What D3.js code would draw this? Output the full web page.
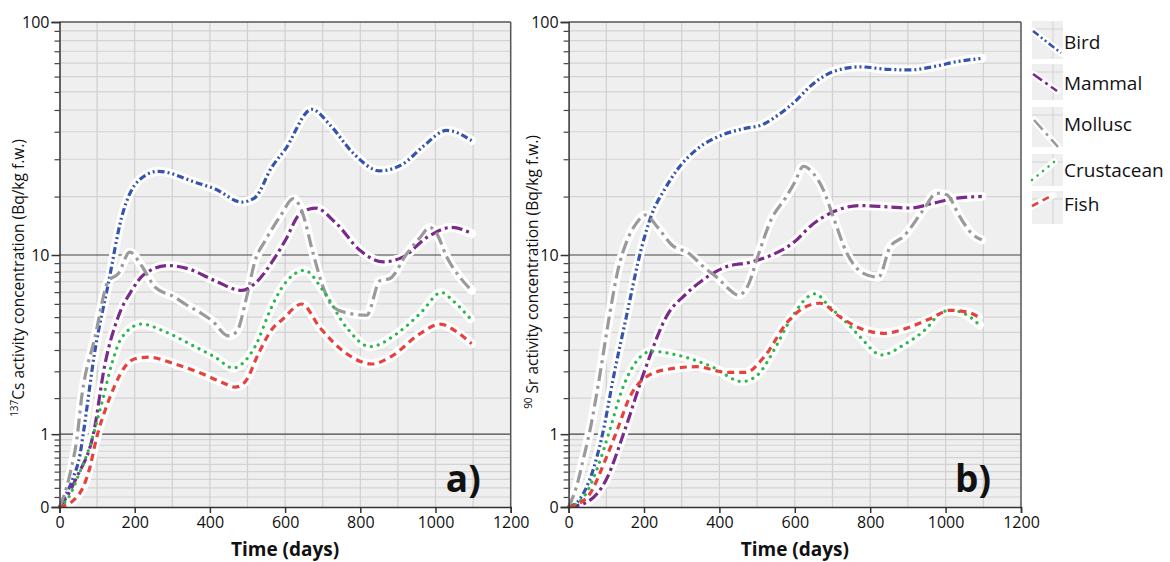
<!DOCTYPE html>
<html><head><meta charset="utf-8">
<script src="https://cdn.jsdelivr.net/npm/d3@7"></script>
<style>
body{margin:0;background:#fff;}
svg{display:block;font-family:"Open Sans",sans-serif;}
</style></head>
<body><svg id="chart" width="1170" height="562"></svg>
<script>
// ---------- data (days, Bq/kg f.w.) ----------
const seriesNames = ["Bird","Mammal","Mollusc","Crustacean","Fish"];
const xTicks = [0,200,400,600,800,1000,1200];
const yMajorTicks = [0,1,10,100];

// Panel a) 137Cs
const csBird = [[0,0],[14,0.1],[37,0.33],[55,0.66],[63,1.0],[94,3.4],[130,7.4],[165,14.7],[210,21.3],[263,23.4],[360,21],[414,19.6],[485,17.2],[520,18],[564,24.3],[600,29],[671,43],[719,37],[781,28],[852,23.5],[914,25.2],[968,30],[1030,35],[1096,31.7]];
const csMammal = [[0,0],[19,0.1],[46,0.33],[90,1.0],[121,2.9],[156,5.1],[192,6.85],[227,8.2],[289,8.95],[342,8.65],[414,7.6],[485,6.85],[520,7.4],[574,9.8],[600,11.6],[640,15.3],[680,16.2],[737,13.8],[799,10.5],[861,9.3],[914,9.8],[977,12],[1043,13.3],[1096,12.5]];
const csMollusc = [[0,0],[19,0.21],[32,0.46],[46,0.9],[59,1.84],[94,4.0],[130,7.6],[156,8.2],[187,10.3],[218,8.95],[254,7.1],[307,6.36],[334,5.9],[378,5.3],[405,4.9],[449,4.1],[471,4.3],[498,6.4],[520,9.4],[547,11.6],[588,15],[622,17.8],[644,15.8],[675,10.1],[701,7.1],[728,5.7],[773,5.3],[817,5.2],[852,7.6],[879,7.8],[923,10.1],[959,12],[985,13.3],[1003,12.5],[1030,9.8],[1065,7.9],[1096,6.85]];
const csCrustacean = [[0,0],[25,0.1],[52,0.37],[79,0.75],[112,1.67],[139,2.9],[165,4.0],[218,4.7],[281,4.3],[360,3.6],[414,3.16],[462,2.75],[485,2.9],[520,3.6],[564,5.7],[590,7.0],[652,8.5],[701,6.85],[764,4.5],[826,3.6],[897,4.2],[959,5.3],[1016,6.7],[1047,6.1],[1093,5.0]];
const csFish = [[0,0],[37,0.065],[63,0.21],[81,0.46],[94,0.8],[103,1.05],[121,1.5],[148,2.2],[174,2.8],[201,3.1],[236,3.16],[307,2.9],[378,2.56],[431,2.28],[467,2.13],[493,2.28],[529,3.3],[564,4.4],[595,5.0],[644,5.9],[693,4.5],[764,3.3],[830,2.9],[879,3.16],[959,4.2],[1012,4.7],[1056,4.3],[1096,3.73]];

// Panel b) 90Sr
const srBird = [[0,0],[30,0.08],[60,0.35],[90,1.0],[120,2.5],[154,5.2],[193,10.7],[220,15.1],[256,19.7],[291,24.1],[344,29.4],[406,33.4],[468,35.7],[512,36.9],[556,40.7],[600,46.3],[640,53.6],[702,62],[773,64.9],[844,63.4],[906,63],[967,65],[1029,68.2],[1096,70.5]];
const srMammal = [[0,0],[50,0.05],[100,0.3],[150,1.1],[200,2.6],[264,5.3],[308,6.5],[362,7.8],[415,8.8],[486,9.3],[539,10],[600,11.5],[640,13.4],[702,15.6],[773,16.6],[844,16.4],[906,16.2],[967,17],[1029,17.9],[1096,18.2]];
const srMollusc = [[0,0],[20,0.2],[40,0.6],[60,1.2],[80,2.3],[110,5.4],[132,8.7],[154,11.5],[180,13.9],[203,15.1],[238,13.2],[274,11.1],[318,10.2],[362,8.7],[397,7.8],[433,6.76],[450,6.5],[477,7.3],[503,10],[539,14.6],[575,17.9],[600,21],[623,24.6],[649,22.9],[676,19.4],[702,14.8],[738,10.2],[782,8.24],[822,7.9],[853,10.9],[888,12.1],[941,15.9],[976,18.8],[1003,18.5],[1038,14.8],[1069,12.5],[1096,11.7]];
const srCrustacean = [[0,0],[40,0.1],[80,0.5],[110,1.1],[140,2.0],[180,3.0],[220,3.4],[300,3.2],[380,2.8],[460,2.3],[500,2.5],[550,3.6],[587,4.9],[654,6.6],[693,5.7],[746,4.6],[773,4.05],[830,3.25],[888,3.67],[950,4.48],[985,5.3],[1012,5.5],[1050,5.3],[1090,4.65]];
const srFish = [[0,0],[50,0.1],[100,0.6],[130,1.1],[160,1.8],[200,2.4],[260,2.7],[340,2.8],[420,2.6],[470,2.6],[520,3.2],[580,4.8],[620,5.6],[667,5.95],[720,5.1],[773,4.48],[835,4.22],[897,4.48],[959,5.0],[1012,5.5],[1056,5.4],[1087,5.1]];

// ---------- styles ----------
const styles = {
  Bird:       {color:"#3553b0", dash:"7,3,2,3,2,3", cap:"butt"},
  Mammal:     {color:"#7b2a8c", dash:"11,4,3,4", cap:"butt"},
  Mollusc:    {color:"#9a9a9a", dash:"13,5,3,5", cap:"butt"},
  Crustacean: {color:"#2db84c", dash:"0.1,7", cap:"round"},
  Fish:       {color:"#e8413c", dash:"7,5", cap:"butt"}
};

// minor grid values
const minorY = [];
for (let k=1;k<=9;k++) minorY.push(k/10);
for (let k=1;k<=10;k++) minorY.push(1+k*9/11);
for (let k=1;k<=10;k++) minorY.push(10+k*90/11);

const svg = d3.select("#chart");
const plotTop = 22, plotBottom = 507;

function panel(x0, x1, data, label) {
  const x = d3.scaleLinear().domain([0,1200]).range([x0,x1]);
  const y = d3.scaleSymlog().constant(1).domain([0,100]).range([plotBottom, plotTop]);
  const g = svg.append("g");
  g.append("rect").attr("x",x0).attr("y",plotTop).attr("width",x1-x0).attr("height",plotBottom-plotTop).attr("fill","#efefef");
  g.selectAll(".mgy").data(minorY).join("line")
    .attr("x1",x0).attr("x2",x1).attr("y1",d=>y(d)).attr("y2",d=>y(d))
    .attr("stroke","#d3d3d3").attr("stroke-width",1.2);
  g.selectAll(".vgx").data(d3.range(100,1200,100)).join("line")
    .attr("x1",d=>x(d)).attr("x2",d=>x(d)).attr("y1",plotTop).attr("y2",plotBottom)
    .attr("stroke","#d0d0d0").attr("stroke-width",1.2);
  g.selectAll(".Mgy").data([1,10]).join("line")
    .attr("x1",x0).attr("x2",x1).attr("y1",d=>y(d)).attr("y2",d=>y(d))
    .attr("stroke","#444").attr("stroke-width",1.2);
  g.append("line").attr("x1",x0).attr("x2",x1).attr("y1",plotTop).attr("y2",plotTop).attr("stroke","#555").attr("stroke-width",1.5);
  g.append("line").attr("x1",x1).attr("x2",x1).attr("y1",plotTop).attr("y2",plotBottom).attr("stroke","#555").attr("stroke-width",1.5);

  const line = d3.line().x(d=>x(d[0])).y(d=>y(d[1])).curve(d3.curveMonotoneX);
  const lg = g.append("g");
  seriesNames.forEach((n,i)=>{
    lg.append("path").attr("d",line(data[i])).attr("fill","none")
      .attr("stroke","#fff").attr("stroke-width",9).attr("stroke-linecap","round").attr("stroke-linejoin","round");
  });
  seriesNames.forEach((n,i)=>{
    const s = styles[n];
    lg.append("path").attr("d",line(data[i])).attr("fill","none")
      .attr("stroke",s.color).attr("stroke-width",3.2).attr("stroke-dasharray",s.dash)
      .attr("stroke-linecap",s.cap);
  });

  const ax = g.append("g").attr("transform",`translate(0,${plotBottom})`)
    .call(d3.axisBottom(x).tickValues(xTicks).tickSize(6).tickPadding(4).tickFormat(d3.format("d")));
  ax.select(".domain").attr("stroke","#333").attr("stroke-width",1.5);
  ax.selectAll(".tick line").attr("stroke","#333").attr("stroke-width",1.5);
  ax.selectAll("text").attr("font-size",16).attr("fill","#111").attr("font-family","Open Sans");

  const ayMinor = g.append("g").attr("transform",`translate(${x0},0)`)
    .call(d3.axisLeft(y).tickValues(minorY).tickSize(5).tickFormat(""));
  ayMinor.select(".domain").remove();
  ayMinor.selectAll(".tick line").attr("stroke","#444").attr("stroke-width",1.2);
  const ay = g.append("g").attr("transform",`translate(${x0},0)`)
    .call(d3.axisLeft(y).tickValues(yMajorTicks).tickSize(8).tickPadding(2).tickFormat(d3.format("d")));
  ay.select(".domain").attr("stroke","#333").attr("stroke-width",1.5);
  ay.selectAll(".tick line").attr("stroke","#333").attr("stroke-width",1.5);
  ay.selectAll("text").attr("font-size",16).attr("fill","#111").attr("font-family","Open Sans");

  g.append("text").attr("x",(x0+x1)/2).attr("y",556).attr("text-anchor","middle")
    .attr("font-size",19).attr("font-weight","bold").attr("fill","#111").text("Time (days)");
  g.append("text").attr("x",x1-30).attr("y",492).attr("text-anchor","end")
    .attr("font-size",37).attr("font-weight","bold").attr("fill","#111").text(label);
}

panel(59.5, 510.7, [csBird,csMammal,csMollusc,csCrustacean,csFish], "a)");
panel(568.6, 1021, [srBird,srMammal,srMollusc,srCrustacean,srFish], "b)");

function ytitle(cx, cy, sup, rest){
  const t = svg.append("text").attr("transform",`translate(${cx},${cy}) rotate(-90)`)
    .attr("text-anchor","middle").attr("font-size",15.5).attr("fill","#111");
  t.append("tspan").attr("font-size",10).attr("dy",-6).text(sup);
  t.append("tspan").attr("dy",6).text(rest);
}
ytitle(24, 278, "137", "Cs activity concentration (Bq/kg f.w.)");
ytitle(538, 272, "90", " Sr activity concentration (Bq/kg f.w.)");

const legY = [[21,59],[64,100],[107,147],[154,186],[191,224]];
const legLine = [[[1033,31],[1061,53]],[[1033,74],[1057,91]],[[1034,120],[1058,147]],[[1032,180],[1054,162]],[[1032,206],[1053,195]]];
const textY = [42,83,124,170,204];
const leg = svg.append("g");
seriesNames.forEach((n,i)=>{
  const [y0,y1] = legY[i];
  leg.append("rect").attr("x",1032).attr("y",y0).attr("width",31).attr("height",y1-y0).attr("fill","#efefef");
  leg.append("line").attr("x1",1053).attr("x2",1053).attr("y1",y0).attr("y2",y1).attr("stroke","#d3d3d3");
  leg.append("line").attr("x1",1032).attr("x2",1063).attr("y1",y0+8).attr("y2",y0+8).attr("stroke","#d3d3d3");
  const s = styles[n];
  const [p0,p1] = legLine[i];
  leg.append("line").attr("x1",p0[0]).attr("y1",p0[1]).attr("x2",p1[0]).attr("y2",p1[1])
    .attr("stroke","#fff").attr("stroke-width",7).attr("stroke-linecap","round");
  leg.append("line").attr("x1",p0[0]).attr("y1",p0[1]).attr("x2",p1[0]).attr("y2",p1[1])
    .attr("stroke",s.color).attr("stroke-width",2.6).attr("stroke-dasharray",s.dash).attr("stroke-linecap",s.cap);
  leg.append("text").attr("x",1064).attr("y",textY[i]).attr("dy","0.35em")
    .attr("font-size",19).attr("fill","#111").text(n);
});
</script></body></html>
